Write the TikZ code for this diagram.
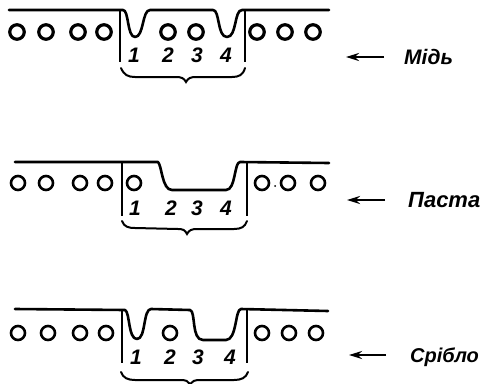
\documentclass[tikz,border=0pt]{standalone}
\usepackage{fontspec}
\setmainfont{Liberation Sans}
\usetikzlibrary{arrows.meta}
\tikzset{
  hole/.style={circle,draw=black,line width=3.2pt,minimum size=14.5pt,inner sep=0pt},
  holethin/.style={circle,draw=black,line width=2.6pt,minimum size=14pt,inner sep=0pt},
  metal/.style={line width=2.6pt,line join=round,line cap=round},
  wall/.style={line width=1.8pt},
  curly/.style={line width=2pt,line cap=round},
  num/.style={font=\fontsize{21}{21}\selectfont\itshape\bfseries,inner sep=0pt},
  mat/.style={font=\fontsize{21}{21}\selectfont\itshape\bfseries,inner sep=0pt,anchor=west},
  ptr/.style={line width=2.2pt,-{Stealth[length=13pt,width=8pt]}}
}
\begin{document}
\begin{tikzpicture}[x=1pt,y=-1pt]
\useasboundingbox (0,0) rectangle (487,383);
% row 1
\foreach \n/\x in {a/17,b/46,c/78,d/104,e/168,f/196,g/257,h/285,i/313}
  \node[hole] (r1\n) at (\x,32) {};
\draw[metal] (9,10) -- (123,10) .. controls (129,10) and (127,37) .. (135,37) .. controls (144,37) and (142,10) .. (150,10) -- (213,10) .. controls (220,10) and (217,37) .. (227,37) .. controls (237,37) and (234,10) .. (242,10) -- (329,10);
\coordinate (r1wa) at (120,10); \coordinate (r1wb) at (120,62);
\coordinate (r1wc) at (245,11); \coordinate (r1wd) at (245,62);
\draw[wall] (r1wa) -- (r1wb); \draw[wall] (r1wc) -- (r1wd);
\node[num] (r1n1) at (134,55) {1};
\node[num] (r1n2) at (168,55) {2};
\node[num] (r1n3) at (197,55) {3};
\node[num] (r1n4) at (226,55) {4};
\draw[curly] (121,68) .. controls (124,75) and (128,77) .. (135,77) -- (176,77) .. controls (181,77) and (184,78) .. (186,82) .. controls (188,78) and (191,77) .. (196,77) -- (232,77) .. controls (239,77) and (243,75) .. (245,68);
% row 2
\foreach \n/\x in {a/18,b/46,c/80,d/105,e/134,f/262,g/288,h/318}
  \node[holethin] (r2\n) at (\x,183) {};
\fill (275,186) circle (1);
\draw[metal] (15,162) -- (158,162) .. controls (162,166) and (162,190) .. (172,190) -- (226,190) .. controls (236,190) and (234,162) .. (240,162) -- (329,163);
\coordinate (r2wa) at (122,163); \coordinate (r2wb) at (122,216);
\coordinate (r2wc) at (247,163); \coordinate (r2wd) at (247,216);
\draw[wall] (r2wa) -- (r2wb); \draw[wall] (r2wc) -- (r2wd);
\node[num] (r2n1) at (135,208) {1};
\node[num] (r2n2) at (171,208) {2};
\node[num] (r2n3) at (197,208) {3};
\node[num] (r2n4) at (226,208) {4};
\draw[curly] (122,221) .. controls (124,227) and (129,228) .. (135,228) -- (178,229) .. controls (183,229) and (185,230) .. (187,234) .. controls (189,230) and (192,229) .. (197,229) -- (234,229) .. controls (241,229) and (245,227) .. (247,221);
% row 3
\foreach \n/\x in {a/18,b/48,c/80,d/106,e/170,f/262,g/289,h/316}
  \node[holethin] (r3\n) at (\x,333) {};
\draw[metal] (15,309) -- (125,310) .. controls (130,312) and (128,339) .. (137,339) .. controls (146,339) and (143,309) .. (151,309) -- (190,310) .. controls (196,311) and (191,340) .. (203,340) -- (226,340) .. controls (237,340) and (235,309) .. (241,309) -- (328,311);
\coordinate (r3wa) at (122,310); \coordinate (r3wb) at (122,363);
\coordinate (r3wc) at (247,310); \coordinate (r3wd) at (247,363);
\draw[wall] (r3wa) -- (r3wb); \draw[wall] (r3wc) -- (r3wd);
\node[num] (r3n1) at (136,357) {1};
\node[num] (r3n2) at (170,357) {2};
\node[num] (r3n3) at (198,357) {3};
\node[num] (r3n4) at (230,357) {4};
\draw[curly] (121,372) .. controls (123,378) and (128,380) .. (135,380) -- (180,380) .. controls (186,380) and (188,381) .. (190,384) .. controls (192,381) and (195,380) .. (200,380) -- (234,380) .. controls (241,380) and (246,378) .. (248,372);
% labels
\node[mat] (lm) at (404,57) {Мідь};
\node[mat,font=\fontsize{22}{22}\selectfont\itshape\bfseries] (lp) at (408,200) {Паста};
\node[mat,font=\fontsize{20}{20}\selectfont\itshape\bfseries] (ls) at (410,357) {Срібло};
\coordinate (pma) at (384,57); \coordinate (pmb) at (346,57);
\coordinate (ppa) at (385,200); \coordinate (ppb) at (347,200);
\coordinate (psa) at (386,355); \coordinate (psb) at (349,355);
\draw[ptr] (pma) -- (pmb);
\draw[ptr] (ppa) -- (ppb);
\draw[ptr] (psa) -- (psb);
\end{tikzpicture}
\end{document}
